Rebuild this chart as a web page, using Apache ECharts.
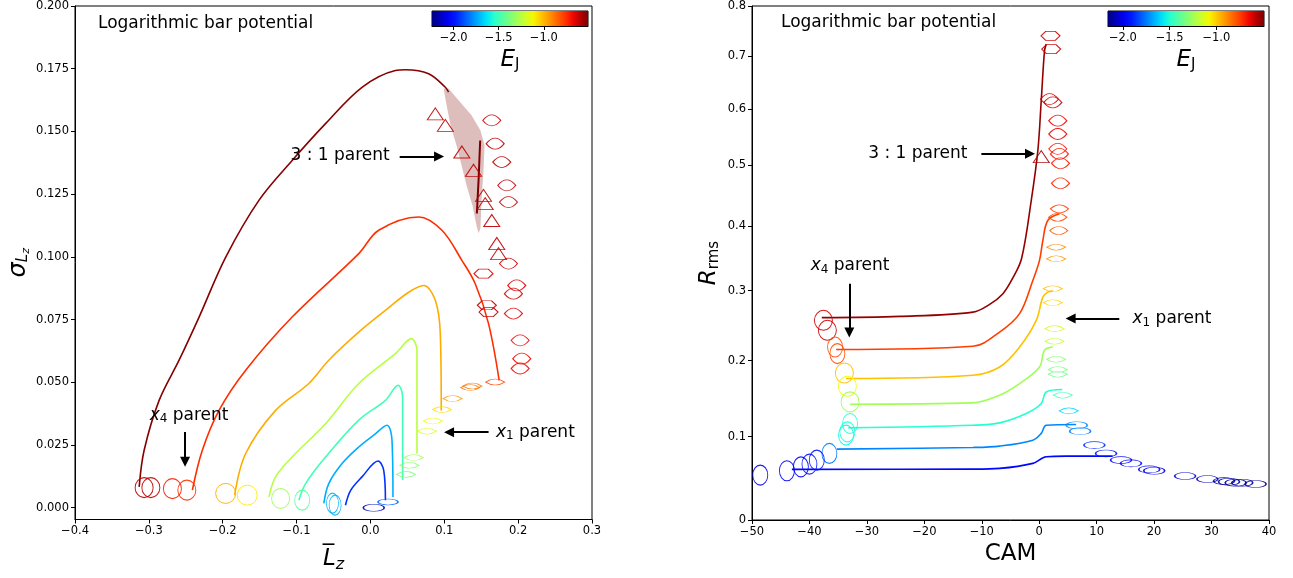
<!DOCTYPE html>
<html lang="en">
<head>
<meta charset="UTF-8">
<title>Orbit families - logarithmic bar</title>
<script src="https://cdn.jsdelivr.net/npm/echarts@6/dist/echarts.min.js"></script>
<style>
    html, body { margin: 0; padding: 0; background: #fff; }
    #box { width: 1293px; height: 578px; }
</style>
</head>
<body>
<div id="box"></div>
<script>
// ---------- data: left panel (Lz mean vs sigma Lz) ----------
var leftXTicks = [-0.4, -0.3, -0.2, -0.1, 0.0, 0.1, 0.2, 0.3];
var leftYTicks = [0, 0.025, 0.05, 0.075, 0.1, 0.125, 0.15, 0.175, 0.2];
var cbLeft = [-2.24, -0.51];          // colour bar range (E_J)
var cbRight = [-2.16, -0.49];
var cbTicks = [-2.0, -1.5, -1.0];
var curveEJ = [-0.52, -0.75, -0.98, -1.25, -1.50, -1.73, -1.94];

var leftDarkRed = [[-0.3131,0.0083],[-0.3064,0.0229],[-0.2861,0.0428],[-0.2591,0.0588],[-0.232,0.076],
    [-0.1959,0.0999],[-0.151,0.1225],[-0.106,0.1384],[-0.0608,0.1531],[-0.0114,0.1676],[0.0338,0.1743],
    [0.0473,0.1746],[0.0788,0.173],[0.1014,0.1676],[0.1058,0.1657]];
var leftRed = [[-0.2411,0.007],[-0.2276,0.0229],[-0.205,0.0388],[-0.1689,0.0548],[-0.106,0.076],
    [-0.0158,0.1013],[0.0112,0.1106],[0.0653,0.1159],[0.0968,0.1106],[0.1238,0.0986],[0.1419,0.0893],
    [0.1599,0.0734],[0.1743,0.0508]];
var leftOrange = [[-0.1838,0.005],[-0.1689,0.0216],[-0.1284,0.0388],[-0.0834,0.0495],[-0.0564,0.0588],
    [-0.014,0.0705],[0.0203,0.0787],[0.0518,0.0859],[0.072,0.0886],[0.0878,0.0827],[0.0946,0.0694],[0.0959,0.0388]];
var leftYellowGreen = [[-0.1374,0.0043],[-0.1284,0.0123],[-0.106,0.0202],[-0.0608,0.0335],[-0.0158,0.0495],
    [0.0338,0.0614],[0.0554,0.0674],[0.063,0.0627],[0.063,0.0216]];
var leftGreen = [[-0.0969,0.003],[-0.0878,0.0096],[-0.0608,0.0202],[-0.0158,0.0349],[0.0203,0.0428],
    [0.0373,0.0488],[0.0436,0.0441],[0.0436,0.011]];
var leftLightBlue = [[-0.0631,0.0017],[-0.0564,0.0096],[-0.0384,0.0176],[-0.0158,0.0242],[0.0045,0.0289],
    [0.0224,0.0329],[0.0292,0.0269],[0.0305,0.0043]];
var leftBlue = [[-0.0338,0.001],[-0.0266,0.007],[-0.0114,0.0123],[0.0103,0.0186],[0.018,0.0149],[0.0203,0.003]];
var leftCurves = [leftDarkRed, leftRed, leftOrange, leftYellowGreen, leftGreen, leftLightBlue, leftBlue];

// 3:1 scatter cloud outline and its dense spine
var cloudOutline = [[0.0991,0.1671],[0.1031,0.1604],[0.1085,0.1524],[0.1166,0.1444],[0.1234,0.1365],
    [0.1301,0.1285],[0.1382,0.1205],[0.1436,0.1125],[0.1464,0.1094],[0.149,0.1114],[0.1504,0.1225],
    [0.1531,0.1345],[0.1545,0.1444],[0.149,0.1504],[0.1369,0.1564],[0.1193,0.1624],[0.1058,0.1671]];
var cloudSpine = [[0.1486,0.1464],[0.1464,0.1305],[0.1441,0.1173]];

// orbits: [x, y, E_J, kind]
var leftOrbits = [
    [-0.3064,0.008,-0.6,'loop'],[-0.2973,0.008,-0.6,'loop'],[-0.2681,0.0076,-0.72,'loop'],[-0.2486,0.007,-0.75,'loop'],
    [-0.196,0.0057,-0.98,'loopL'],[-0.1668,0.005,-1.1,'loopL'],[-0.1216,0.0037,-1.3,'loop'],[-0.0924,0.003,-1.45,'loopN'],
    [-0.0514,0.0018,-1.72,'narrow'],[-0.0478,0.001,-1.72,'narrow'],
    [0.0045,0.0,-2.15,'flat'],[0.0238,0.0023,-1.85,'flatS'],
    [0.0481,0.0133,-1.38,'lens'],[0.0527,0.0169,-1.35,'lens'],[0.0585,0.02,-1.3,'lens'],[0.0765,0.0305,-1.17,'lens'],
    [0.0846,0.0346,-1.13,'lens'],[0.0968,0.0391,-1.07,'lens'],[0.1112,0.0435,-0.95,'lens'],[0.1351,0.0479,-0.88,'lens'],
    [0.138,0.0485,-0.88,'lens'],[0.1689,0.0501,-0.8,'lens'],
    [0.1734,0.1013,-0.62,'tri'],[0.1869,0.0973,-0.62,'eye'],[0.1531,0.0933,-0.64,'hex'],[0.1981,0.0886,-0.64,'eye'],
    [0.1936,0.0853,-0.64,'eye'],[0.1576,0.0807,-0.6,'hex'],[0.1599,0.078,-0.6,'hex'],[0.1936,0.0774,-0.66,'eye'],
    [0.2027,0.0667,-0.68,'eye'],[0.2049,0.0594,-0.68,'eye'],[0.2027,0.0555,-0.68,'eye'],
    [0.0878,0.157,-0.6,'tri'],[0.1014,0.1524,-0.6,'tri'],[0.1238,0.1418,-0.6,'tri'],[0.1396,0.1345,-0.6,'tri'],
    [0.1531,0.1245,-0.6,'tri'],[0.1554,0.1212,-0.6,'tri'],[0.1643,0.1145,-0.6,'tri'],[0.1711,0.1053,-0.6,'tri'],
    [0.1643,0.1544,-0.6,'eye'],[0.1689,0.1451,-0.6,'eye'],[0.1778,0.1378,-0.6,'eye'],[0.1846,0.1285,-0.6,'eye'],
    [0.1869,0.1218,-0.6,'eye']
];

// ---------- data: right panel (CAM vs R_rms) ----------
var rightXTicks = [-50, -40, -30, -20, -10, 0, 10, 20, 30, 40];
var rightYTicks = [0, 0.1, 0.2, 0.3, 0.4, 0.5, 0.6, 0.7, 0.8];
var rightDarkRed = [[-37.85,0.2604],[-24.24,0.2622],[-11.53,0.2684],[-8.63,0.2796],[-6.32,0.2954],[-4.64,0.3182],
    [-3.07,0.3486],[-1.39,0.441],[-0.24,0.5256],[0.35,0.6152],[0.92,0.71],[1.22,0.7232]];
var rightRed = [[-35.36,0.2152],[-11.53,0.2197],[-6.89,0.2398],[-3.42,0.2662],[-1.11,0.3152],[0.05,0.3456],
    [0.63,0.3766],[1.49,0.4084],[3.52,0.4192]];
var rightOrange = [[-33.63,0.1756],[-11.53,0.18],[-6.89,0.1912],[-3.42,0.2187],[-0.52,0.2565],[0.63,0.2903],
    [1.49,0.2977],[2.36,0.2992]];
var rightYellowGreen = [[-32.93,0.1416],[-11.53,0.1433],[-6.89,0.1534],[-3.42,0.1688],[0.05,0.1912],[0.92,0.2142],[2.36,0.2187]];
var rightGreen = [[-33.23,0.1111],[-11.53,0.1145],[-6.89,0.1175],[-2.26,0.1295],[0.35,0.1425],[1.22,0.1577],[4.0,0.1609]];
var rightLightBlue = [[-35.24,0.0844],[-11.53,0.0865],[-6.89,0.0882],[-1.11,0.0956],[0.35,0.1041],[1.22,0.1145],[6.42,0.1154]];
var rightBlue = [[-43.06,0.0596],[-11.53,0.0599],[-6.89,0.0608],[-1.11,0.0669],[1.22,0.075],[4.69,0.0758],[12.78,0.0758]];
var rightCurves = [rightDarkRed, rightRed, rightOrange, rightYellowGreen, rightGreen, rightLightBlue, rightBlue];

var rightOrbits = [
    [-37.57,0.2565,-0.6,'loop'],[-36.88,0.2422,-0.6,'loop'],[-35.54,0.2187,-0.78,'loopN'],[-35.14,0.2096,-0.78,'loopN'],
    [-33.92,0.1831,-0.98,'loop'],[-33.4,0.1653,-1.1,'loop'],[-32.93,0.1446,-1.25,'loop'],[-32.93,0.1167,-1.5,'loopN'],
    [-33.4,0.1061,-1.5,'loopN'],[-33.63,0.1019,-1.55,'loopN'],[-36.53,0.0791,-1.75,'loopN'],[-38.72,0.0709,-1.92,'loopN'],
    [-40.0,0.066,-1.92,'loopN'],[-41.49,0.0627,-1.95,'loopN'],[-43.92,0.0579,-1.97,'loopN'],[-48.56,0.0527,-2.0,'loopN'],
    [1.96,0.7396,-0.6,'hex'],[2.08,0.7134,-0.6,'hex'],[1.79,0.6183,-0.6,'eye'],[2.36,0.612,-0.6,'eye'],
    [3.23,0.5787,-0.65,'eye'],[3.23,0.5549,-0.65,'eye'],[3.23,0.5286,-0.68,'eye'],[3.52,0.5198,-0.68,'eye'],
    [3.7,0.5037,-0.68,'eye'],[0.35,0.5152,-0.55,'tri'],[3.7,0.4697,-0.7,'eye'],[3.52,0.4274,-0.75,'lensM'],
    [3.23,0.4137,-0.78,'lensM'],[3.4,0.3924,-0.8,'lensM'],[2.95,0.3661,-0.88,'lens'],[2.95,0.3481,-0.9,'lens'],
    [2.36,0.3028,-0.98,'lens'],[2.36,0.2821,-1.02,'lens'],[2.66,0.2446,-1.15,'lens'],[2.66,0.2267,-1.18,'lens'],
    [2.95,0.2018,-1.3,'lens'],[3.23,0.1877,-1.33,'lens'],[3.23,0.1814,-1.36,'lens'],[4.1,0.1534,-1.45,'lens'],
    [5.14,0.1329,-1.6,'lens'],[6.53,0.1145,-1.72,'flat'],[7.12,0.1069,-1.75,'flat'],[9.6,0.0894,-1.88,'flat'],
    [11.63,0.0791,-1.92,'flat'],[14.24,0.0709,-1.95,'flat'],[15.97,0.0669,-1.97,'flat'],[19.15,0.0596,-2.0,'flat'],
    [20.02,0.0579,-2.02,'flat'],[25.4,0.0515,-2.05,'flat'],[29.27,0.0479,-2.08,'flat'],[32.17,0.0455,-2.1,'flat'],
    [33.04,0.0447,-2.1,'flat'],[34.2,0.0435,-2.12,'flat'],[35.35,0.0435,-2.12,'flat'],[37.67,0.042,-2.14,'flat']
];

// annotations (text anchor = left edge, vertical middle) and arrows
var leftNotes = [
    {text: '3 : 1 parent', at: [-0.109, 0.1404]},
    {text: '{i|x}{s|4} parent', at: [-0.2996, 0.0369]},
    {text: '{i|x}{s|1} parent', at: [0.1693, 0.0301]}
];
var leftArrows = [
    [[0.0396, 0.14], [0.0929, 0.14]],
    [[-0.251, 0.0302], [-0.251, 0.0183]],
    [[0.160, 0.0301], [0.1065, 0.0301]]
];
var rightNotes = [
    {text: '3 : 1 parent', at: [-29.86, 0.5198]},
    {text: '{i|x}{s|4} parent', at: [-39.88, 0.3379]},
    {text: '{i|x}{s|1} parent', at: [16.15, 0.259]}
];
var rightArrows = [
    [[-10.07, 0.52], [-1.6, 0.52]],
    [[-33.06, 0.3102], [-33.06, 0.2391]],
    [[13.94, 0.259], [5.47, 0.259]]
];

// ---------- helpers ----------
var FONT = 'DejaVu Sans';
var jetR = [[0,0],[0.35,0],[0.66,1],[0.89,1],[1,0.5]];
var jetG = [[0,0],[0.125,0],[0.375,1],[0.64,1],[0.91,0],[1,0]];
var jetB = [[0,0.5],[0.11,1],[0.34,1],[0.65,0],[1,0]];
function pw(pts, t) {
    for (var i = 1; i < pts.length; i++) {
        if (t <= pts[i][0]) {
            var a = pts[i-1], b = pts[i];
            return a[1] + (b[1] - a[1]) * (t - a[0]) / (b[0] - a[0]);
        }
    }
    return pts[pts.length-1][1];
}
function jet(t) {
    t = Math.max(0, Math.min(1, t));
    return 'rgb(' + Math.round(255*pw(jetR,t)) + ',' + Math.round(255*pw(jetG,t)) + ',' + Math.round(255*pw(jetB,t)) + ')';
}
function ejColor(e, range) { return jet((e - range[0]) / (range[1] - range[0])); }
function minus(s) { return s.replace('-', '\u2212'); }

var orbitKinds = {
    loop:   {symbol: 'circle', size: [18, 20]},
    loopL:  {symbol: 'circle', size: [20, 20]},
    loopN:  {symbol: 'circle', size: [15, 20]},
    narrow: {symbol: 'circle', size: [12, 20]},
    flat:   {symbol: 'circle', size: [21, 7]},
    flatS:  {symbol: 'circle', size: [20, 6]},
    lens:   {symbol: 'path://M0,5 Q10,-5 20,5 Q10,15 0,5 Z', size: [19, 6]},
    lensM:  {symbol: 'path://M0,5 Q10,-5 20,5 Q10,15 0,5 Z', size: [18, 8]},
    eye:    {symbol: 'path://M0,5 Q10,-5 20,5 Q10,15 0,5 Z', size: [18, 11]},
    tri:    {symbol: 'path://M0,18 L10,0 L20,18 Z', size: [16, 12]},
    hex:    {symbol: 'path://M0,5 L5,0 L15,0 L20,5 L15,10 L5,10 Z', size: [19, 9]}
};
function orbitItems(list, range, toY) {
    return list.map(function (o) {
        var k = orbitKinds[o[3]];
        return {
            value: [o[0], toY(o[1])],
            symbol: k.symbol,
            symbolSize: k.size,
            itemStyle: {color: 'rgba(0,0,0,0)', borderColor: ejColor(o[2], range), borderWidth: 1, opacity: 0.9}
        };
    });
}
var ident = function (v) { return v; };
var logY = function (r) { return Math.log1p(r); };

var gradStops = [];
for (var k = 0; k <= 20; k++) gradStops.push({offset: k / 20, color: jet(k / 20)});

var tickLabel = {fontFamily: FONT, fontSize: 11.5, color: '#000', margin: 6};
var noteRich = {
    i: {fontStyle: 'italic', fontSize: 17, fontFamily: FONT, color: '#000'},
    s: {fontSize: 12, fontFamily: FONT, color: '#000', padding: [8, 0, 0, 0]}
};

// ---------- chart ----------
var myChart = echarts.init(document.getElementById('box'));
var series = [];

leftCurves.forEach(function (pts, i) {
    series.push({type: 'line', xAxisIndex: 0, yAxisIndex: 0, data: pts, showSymbol: false, smooth: 0.35,
        lineStyle: {width: 1.6, color: ejColor(curveEJ[i], cbLeft)}, silent: true, z: 3});
});
rightCurves.forEach(function (pts, i) {
    series.push({type: 'line', xAxisIndex: 1, yAxisIndex: 1,
        data: pts.map(function (p) { return [p[0], logY(p[1])]; }), showSymbol: false, smooth: 0.35,
        lineStyle: {width: 1.6, color: ejColor(curveEJ[i], cbRight)}, silent: true, z: 3});
});

// scatter cloud of the 3:1 family
series.push({
    type: 'custom', xAxisIndex: 0, yAxisIndex: 0, data: [cloudOutline[0]], silent: true, z: 2,
    renderItem: function (params, api) {
        return {type: 'polygon', shape: {points: cloudOutline.map(function (c) { return api.coord(c); })},
            style: {fill: 'rgba(128,0,0,0.26)'}};
    }
});
series.push({type: 'line', xAxisIndex: 0, yAxisIndex: 0, data: cloudSpine, showSymbol: false, smooth: true,
    lineStyle: {width: 2, color: '#7a0000'}, silent: true, z: 3});

series.push({type: 'scatter', xAxisIndex: 0, yAxisIndex: 0, data: orbitItems(leftOrbits, cbLeft, ident), silent: true, z: 4});
series.push({type: 'scatter', xAxisIndex: 1, yAxisIndex: 1, data: orbitItems(rightOrbits, cbRight, logY), silent: true, z: 4});

// annotations
function noteSeries(notes, ax, toY) {
    return {
        type: 'scatter', xAxisIndex: ax, yAxisIndex: ax, symbolSize: 1, silent: true, z: 6,
        itemStyle: {color: 'rgba(0,0,0,0)', opacity: 1},
        data: notes.map(function (n) { return {value: [n.at[0], toY(n.at[1])], name: n.text}; }),
        label: {show: true, position: 'right', distance: 0, formatter: '{b}', fontFamily: FONT,
            fontSize: 17, color: '#000', opacity: 1, rich: noteRich}
    };
}
series.push(noteSeries(leftNotes, 0, ident));
series.push(noteSeries(rightNotes, 1, logY));
function arrowSeries(arrows, ax, toY) {
    return {
        type: 'lines', coordinateSystem: 'cartesian2d', xAxisIndex: ax, yAxisIndex: ax, silent: true, z: 6,
        symbol: ['none', 'triangle'], symbolSize: [11, 10],
        lineStyle: {color: '#000', width: 2, opacity: 1},
        itemStyle: {color: '#000'},
        data: arrows.map(function (a) { return {coords: [[a[0][0], toY(a[0][1])], [a[1][0], toY(a[1][1])]]}; })
    };
}
series.push(arrowSeries(leftArrows, 0, ident));
series.push(arrowSeries(rightArrows, 1, logY));

// colour bars
function cbSeries(ax, range) {
    return {
        type: 'custom', xAxisIndex: ax, yAxisIndex: ax, data: [[range[0], 0]], silent: true,
        renderItem: function (params, api) {
            var p0 = api.coord([range[0], 0]), p1 = api.coord([range[1], 1]);
            return {type: 'rect', shape: {x: p0[0], y: p1[1], width: p1[0] - p0[0], height: p0[1] - p1[1]},
                style: {fill: new echarts.graphic.LinearGradient(0, 0, 1, 0, gradStops)}};
        }
    };
}
series.push(cbSeries(2, cbLeft));
series.push(cbSeries(3, cbRight));

var frame = {show: true, borderColor: '#000', borderWidth: 1, backgroundColor: 'rgba(0,0,0,0)'};
var axisBase = {
    axisLine: {show: true, onZero: false, lineStyle: {color: '#000', width: 1}},
    axisTick: {show: true, inside: false, length: 4, lineStyle: {color: '#000'}},
    splitLine: {show: false}
};
function mk(o) { return Object.assign({}, JSON.parse(JSON.stringify(axisBase)), o); }
var ejName = '{i|E}{s|J}';
var ejRich = {
    i: {fontStyle: 'italic', fontSize: 23, fontFamily: FONT, color: '#000'},
    s: {fontSize: 15, fontFamily: FONT, color: '#000', padding: [10, 0, 0, 0]}
};

option = {
    backgroundColor: '#fff',
    animation: false,
    title: [
        {text: 'Logarithmic bar potential', left: 98, top: 15, padding: 0,
            textStyle: {fontFamily: FONT, fontSize: 17, fontWeight: 'normal', color: '#000'}},
        {text: 'Logarithmic bar potential', left: 781, top: 14, padding: 0,
            textStyle: {fontFamily: FONT, fontSize: 17, fontWeight: 'normal', color: '#000'}}
    ],
    grid: [
        Object.assign({left: 75, top: 5, width: 517, bottom: 58.5, containLabel: false}, frame),
        Object.assign({left: 752, top: 5, right: 24, bottom: 58, containLabel: false}, frame),
        Object.assign({left: 432, top: 11, width: 156, height: 15}, frame),
        Object.assign({left: 1108, top: 11, width: 156, height: 15}, frame)
    ],
    xAxis: [
        mk({type: 'value', gridIndex: 0, min: -0.4, max: 0.3,
            axisTick: {show: true, length: 4, lineStyle: {color: '#000'}, customValues: leftXTicks},
            axisLabel: Object.assign({customValues: leftXTicks, formatter: function (v) { return minus(v.toFixed(1)); }}, tickLabel),
            name: '{o|L\u0305}{s|z}', nameLocation: 'middle', nameGap: 27,
            nameTextStyle: {rich: {o: {fontStyle: 'italic', fontSize: 23, fontFamily: FONT, color: '#000'},
                s: {fontStyle: 'italic', fontSize: 16, fontFamily: FONT, color: '#000', padding: [10, 0, 0, 0]}}}}),
        mk({type: 'value', gridIndex: 1, min: -50, max: 40,
            axisTick: {show: true, length: 4, lineStyle: {color: '#000'}, customValues: rightXTicks},
            axisLabel: Object.assign({customValues: rightXTicks, formatter: function (v) { return minus(String(Math.round(v))); }}, tickLabel),
            name: 'CAM', nameLocation: 'middle', nameGap: 18,
            nameTextStyle: {fontFamily: FONT, fontSize: 23, color: '#000'}}),
        mk({type: 'value', gridIndex: 2, min: cbLeft[0], max: cbLeft[1],
            axisTick: {show: true, length: 4, lineStyle: {color: '#000'}, customValues: cbTicks},
            axisLabel: Object.assign({customValues: cbTicks, formatter: function (v) { return minus(v.toFixed(1)); }}, tickLabel),
            name: ejName, nameLocation: 'middle', nameGap: 22, nameTextStyle: {rich: ejRich}}),
        mk({type: 'value', gridIndex: 3, min: cbRight[0], max: cbRight[1],
            axisTick: {show: true, length: 4, lineStyle: {color: '#000'}, customValues: cbTicks},
            axisLabel: Object.assign({customValues: cbTicks, formatter: function (v) { return minus(v.toFixed(1)); }}, tickLabel),
            name: ejName, nameLocation: 'middle', nameGap: 22, nameTextStyle: {rich: ejRich}})
    ],
    yAxis: [
        mk({type: 'value', gridIndex: 0, min: -0.0047, max: 0.2,
            axisTick: {show: true, length: 4, lineStyle: {color: '#000'}, customValues: leftYTicks},
            axisLabel: Object.assign({customValues: leftYTicks, formatter: function (v) { return v.toFixed(3); }}, tickLabel),
            name: '{g|\u03c3}{s|L}{ss|z}', nameLocation: 'middle', nameGap: 43, nameRotate: 90,
            nameTextStyle: {rich: {g: {fontStyle: 'italic', fontSize: 24, fontFamily: FONT, color: '#000'},
                s: {fontStyle: 'italic', fontSize: 15, fontFamily: FONT, color: '#000', padding: [10, 0, 0, 0]},
                ss: {fontStyle: 'italic', fontSize: 11, fontFamily: FONT, color: '#000', padding: [16, 0, 0, 0]}}}}),
        mk({type: 'value', gridIndex: 1, min: 0, max: Math.log1p(0.8),
            axisTick: {show: true, length: 4, lineStyle: {color: '#000'}, customValues: rightYTicks.map(logY)},
            axisLabel: Object.assign({customValues: rightYTicks.map(logY), formatter: function (v) {
                var r = Math.expm1(v); return r < 1e-6 ? '0' : r.toFixed(1); }}, tickLabel),
            name: '{i|R}{s|rms}', nameLocation: 'middle', nameGap: 30, nameRotate: 90,
            nameTextStyle: {rich: {i: {fontStyle: 'italic', fontSize: 23, fontFamily: FONT, color: '#000'},
                s: {fontSize: 15, fontFamily: FONT, color: '#000', padding: [10, 0, 0, 0]}}}}),
        {type: 'value', gridIndex: 2, min: 0, max: 1, show: false},
        {type: 'value', gridIndex: 3, min: 0, max: 1, show: false}
    ],
    series: series
};

myChart.setOption(option);
window.addEventListener('resize', myChart.resize);
</script>
</body>
</html>
